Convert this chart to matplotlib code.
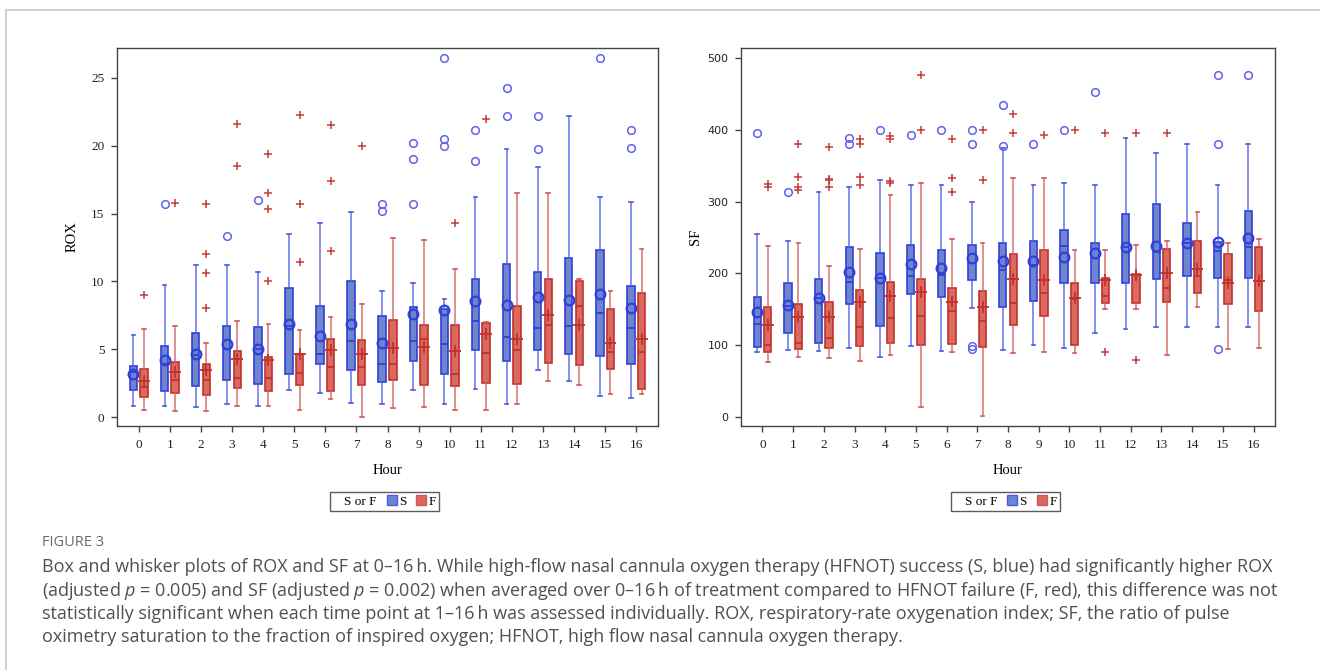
import matplotlib
matplotlib.use("Agg")
import matplotlib.pyplot as plt
from matplotlib.lines import Line2D
from matplotlib.patches import Rectangle
import numpy as np

hours = list(range(17))

# ROX, HFNOT success (S)
rox_s_low = [0.84, 0.81, 0.74, 0.98, 0.84, 2.02, 1.77, 1.06, 0.93, 2.02, 0.98, 2.09, 0.93, 3.44, 2.65, 1.57, 1.43]
rox_s_q1 = [1.97, 1.92, 2.29, 2.70, 2.46, 3.20, 3.88, 3.49, 2.58, 4.13, 3.15, 4.92, 4.13, 4.97, 4.67, 4.47, 3.88]
rox_s_med = [3.3, 3.93, 4.6, 5.04, 5.0, 6.69, 4.62, 5.6, 3.93, 5.58, 5.36, 7.08, 5.9, 6.54, 6.71, 7.67, 6.59]
rox_s_q3 = [3.79, 5.26, 6.22, 6.69, 6.64, 9.49, 8.19, 10.0, 7.42, 8.11, 7.99, 10.2, 11.31, 10.69, 11.73, 12.29, 9.66]
rox_s_high = [6.05, 9.7, 11.18, 11.18, 10.69, 13.52, 14.3, 15.12, 9.29, 9.9, 8.73, 16.22, 19.79, 18.41, 22.22, 16.22, 15.83]
rox_s_mean = [3.2, 4.23, 4.62, 5.36, 4.99, 6.86, 5.97, 6.86, 5.43, 7.57, 7.87, 8.53, 8.28, 8.85, 8.6, 9.05, 8.04]
rox_s_out = [[], [15.68], [], [13.35], [16.0], [], [], [], [15.68, 15.19], [20.23, 19.03, 15.68],
             [26.43, 20.48, 20.01], [21.14, 18.85], [24.26, 22.22], [22.22, 19.79], [], [26.48], [21.14, 19.86]]

# ROX, HFNOT failure (F)
rox_f_low = [0.54, 0.42, 0.42, 0.81, 0.84, 0.54, 1.30, 0.0, 0.69, 0.74, 0.49, 0.49, 0.93, 2.65, 2.38, 1.67, 1.67]
rox_f_q1 = [1.47, 1.77, 1.60, 2.14, 1.89, 2.36, 1.92, 2.38, 2.70, 2.38, 2.31, 2.53, 2.46, 3.98, 3.81, 3.56, 2.04]
rox_f_med = [2.2, 2.75, 2.7, 2.9, 2.9, 3.27, 3.69, 3.69, 3.93, 5.73, 3.2, 4.72, 4.97, 6.76, 8.16, 4.79, 4.79]
rox_f_q3 = [3.54, 4.03, 3.93, 4.87, 4.42, 4.67, 5.78, 5.70, 7.13, 6.76, 6.81, 6.93, 8.16, 10.2, 10.0, 7.96, 9.14]
rox_f_high = [6.5, 6.69, 5.48, 7.08, 6.88, 6.39, 7.4, 8.36, 13.22, 13.08, 10.94, 7.0, 16.52, 16.52, 10.2, 9.29, 12.39]
rox_f_mean = [2.65, 3.29, 3.44, 4.25, 4.2, 4.62, 4.92, 4.67, 5.11, 5.16, 4.87, 6.1, 5.73, 7.5, 6.76, 5.46, 5.73]
rox_f_out = [[8.97], [15.8], [15.68, 12.0, 10.64, 8.04], [21.58, 18.53], [19.42, 16.52, 15.36, 10.0],
             [22.25, 15.68, 11.43], [21.56, 17.43, 12.27], [20.0], [], [], [14.3], [22.0], [], [], [], [], []]

# SF, success (S)
sf_s_low = [90, 93.2, 92.3, 95.5, 84, 98.8, 91.8, 152.1, 93.2, 100.2, 95.5, 116.4, 123, 125.7, 124.8, 125.7, 125.7]
sf_s_q1 = [97.9, 116.4, 103.4, 158, 126.6, 172, 167.4, 190.6, 153.5, 161.9, 186, 186, 186, 192, 196.2, 193.4, 193.4]
sf_s_med = [128.9, 154, 166, 188, 193, 196.2, 197.6, 214.7, 204.5, 212.4, 238, 221.7, 237, 229.6, 242.6, 231, 237]
sf_s_q3 = [166.5, 187, 192, 237, 228.7, 240.3, 232.4, 240.3, 242.6, 244.9, 260.2, 242.6, 282.5, 296.4, 270.9, 244, 286.6]
sf_s_high = [255.6, 245.4, 313.5, 320.5, 330.7, 323.7, 323.7, 300, 375, 323.7, 326.5, 323.7, 388.2, 368.3, 379.9, 323.7, 379.9]
sf_s_mean = [146.6, 155.8, 166, 202, 193, 213, 206.9, 221.7, 217.5, 217.5, 222.2, 228.7, 237, 238.9, 242.6, 243.5, 249.5]
sf_s_out = [[396], [313.5], [], [388.7, 379.9], [400], [392.4], [400.3], [400.3, 380, 98.8, 94.2], [434, 377],
            [380.3], [400.3], [452.7], [], [], [], [476.8, 380.3, 95.1], [476.8]]

# SF, failure (F)
sf_f_low = [77, 84, 82.6, 78.4, 85.8, 13.5, 90, 1.4, 88.6, 90, 88.6, 149.8, 149.8, 85.8, 153.5, 94.2, 95.5]
sf_f_q1 = [91, 94.2, 95.5, 98.8, 102.5, 100.2, 101.6, 97.9, 128, 141, 99.7, 158.2, 158.2, 160.5, 173, 157.2, 148]
sf_f_med = [100, 103.4, 109.5, 125.7, 138.2, 140.5, 148, 134, 158.2, 173, 163.7, 168.8, 198.5, 180.4, 196.7, 190.6, 189.7]
sf_f_q3 = [153.5, 158, 160.5, 176.7, 188, 192, 180, 175.3, 227.7, 232.4, 186, 193, 199, 234.7, 244.9, 227.7, 237]
sf_f_high = [238, 242.6, 211, 234.7, 309.8, 326, 247.7, 242.6, 333.5, 333.5, 232.4, 232.4, 240.3, 244.9, 285.7, 242.6, 247.7]
sf_f_mean = [128, 138.7, 139.6, 159.6, 168.8, 174.4, 159.6, 153.5, 191.6, 190.6, 166, 190.6, 197.6, 200.8, 206, 187, 189.7]
sf_f_out = [[324, 321], [380.8, 334.4, 320.5, 316.8], [376, 332, 330.7, 320.5], [387.8, 380.8, 334.4, 323.3],
            [391, 387.8, 329, 326], [476.8, 400.3], [387.8, 333.5, 313.5], [400.3, 330.7], [422.5, 396],
            [392.4], [400.3], [396, 91], [396, 79.3], [396], [], [], []]

caption_title = "FIGURE 3"
caption_lines = [
    "Box and whisker plots of ROX and SF at 0\u201316\u2009h. While high-flow nasal cannula oxygen therapy (HFNOT) success (S, blue) had significantly higher ROX",
    "(adjusted $p$ = 0.005) and SF (adjusted $p$ = 0.002) when averaged over 0\u201316\u2009h of treatment compared to HFNOT failure (F, red), this difference was not",
    "statistically significant when each time point at 1\u201316\u2009h was assessed individually. ROX, respiratory-rate oxygenation index; SF, the ratio of pulse",
    "oximetry saturation to the fraction of inspired oxygen; HFNOT, high flow nasal cannula oxygen therapy.",
]

plt.rcParams['mathtext.fontset'] = 'custom'
plt.rcParams['mathtext.rm'] = 'Open Sans'
plt.rcParams['mathtext.it'] = 'Open Sans:italic'

S_FILL, S_EDGE, S_WHIS, S_OUT = '#6e84cd', '#3040d8', '#4a5ae8', '#6060f0'
F_FILL, F_EDGE, F_WHIS, F_OUT = '#da6a60', '#c0322e', '#d05a5a', '#c83a3a'
SERIF = 'Liberation Serif'


def make_stats(low, q1, med, q3, high, mean, out):
    return [dict(whislo=a, q1=b, med=c, q3=d, whishi=e, mean=m, fliers=o)
            for a, b, c, d, e, m, o in zip(low, q1, med, q3, high, mean, out)]


def draw_group(ax, stats, offset, fill, edge, whis, outc, mean_marker, flier_marker):
    pos = np.array(hours) + offset
    if mean_marker == 'o':
        meanprops = dict(marker='o', markerfacecolor='none', markeredgecolor=edge, markersize=7, markeredgewidth=1.6)
    else:
        meanprops = dict(marker='+', markeredgecolor=edge, markersize=9, markeredgewidth=1.3)
    if flier_marker == 'o':
        flierprops = dict(marker='o', markerfacecolor='none', markeredgecolor=outc, markersize=5.5, markeredgewidth=1.1)
    else:
        flierprops = dict(marker='+', markeredgecolor=outc, markersize=6, markeredgewidth=1.1)
    ax.bxp(stats, positions=pos, widths=0.24, patch_artist=True, showmeans=True, manage_ticks=False,
           capwidths=0.12,
           boxprops=dict(facecolor=fill, edgecolor=edge, linewidth=1.2),
           whiskerprops=dict(color=whis, linewidth=1.1, alpha=0.85),
           capprops=dict(color=whis, linewidth=1.2),
           medianprops=dict(color=edge, linewidth=1.3),
           meanprops=meanprops, flierprops=flierprops)


def style_axes(ax, ylabel, yticks, ylim, ytick_font, ylabelpad):
    ax.set_xlim(-0.7, 16.7)
    ax.set_ylim(*ylim)
    ax.set_xticks(hours)
    ax.set_xticklabels([str(h) for h in hours], family=SERIF, fontsize=9.5)
    ax.set_yticks(yticks)
    ax.set_yticklabels([str(v) for v in yticks], family=ytick_font, fontsize=9.5 if ytick_font == SERIF else 8)
    ax.tick_params(direction='out', length=4, width=1, color='#444444', labelcolor='#222222', pad=5)
    for sp in ax.spines.values():
        sp.set_color('#444444')
        sp.set_linewidth(1.0)
    ax.set_xlabel('Hour', family=SERIF, fontsize=10.5, labelpad=10)
    ax.set_ylabel(ylabel, family=SERIF, fontsize=10.5, labelpad=ylabelpad)
    handles = [Line2D([], [], linestyle='none'),
               Line2D([], [], linestyle='none', marker='s', markersize=7, markerfacecolor=S_FILL, markeredgecolor=S_WHIS),
               Line2D([], [], linestyle='none', marker='s', markersize=7, markerfacecolor=F_FILL, markeredgecolor=F_WHIS)]
    leg = ax.legend(handles, ['S or F', 'S', 'F'], ncol=3, loc='upper center', bbox_to_anchor=(0.495, -0.158),
                    frameon=True, fancybox=False, handlelength=0.5, handletextpad=0.3, columnspacing=0.9,
                    borderpad=0.25, prop=dict(family=SERIF, size=9.5))
    leg.get_frame().set_edgecolor('#333333')
    leg.get_frame().set_linewidth(1.0)


fig = plt.figure(figsize=(13.2, 6.7), dpi=100)
fig.add_artist(Rectangle((6 / 1320, -0.1), 1.2, 1.1 - 10 / 670, transform=fig.transFigure,
                         facecolor='none', edgecolor='#c8c8c8', linewidth=1.2))

ax1 = fig.add_axes([117 / 1320, 1 - 426 / 670, 541 / 1320, 378 / 670])
ax2 = fig.add_axes([741 / 1320, 1 - 426 / 670, 534 / 1320, 378 / 670])

draw_group(ax1, make_stats(rox_s_low, rox_s_q1, rox_s_med, rox_s_q3, rox_s_high, rox_s_mean, rox_s_out),
           -0.17, S_FILL, S_EDGE, S_WHIS, S_OUT, 'o', 'o')
draw_group(ax1, make_stats(rox_f_low, rox_f_q1, rox_f_med, rox_f_q3, rox_f_high, rox_f_mean, rox_f_out),
           0.17, F_FILL, F_EDGE, F_WHIS, F_OUT, '+', '+')
style_axes(ax1, 'ROX', [0, 5, 10, 15, 20, 25], (-0.66, 27.2), SERIF, 9)

draw_group(ax2, make_stats(sf_s_low, sf_s_q1, sf_s_med, sf_s_q3, sf_s_high, sf_s_mean, sf_s_out),
           -0.17, S_FILL, S_EDGE, S_WHIS, S_OUT, 'o', 'o')
draw_group(ax2, make_stats(sf_f_low, sf_f_q1, sf_f_med, sf_f_q3, sf_f_high, sf_f_mean, sf_f_out),
           0.17, F_FILL, F_EDGE, F_WHIS, F_OUT, '+', '+')
style_axes(ax2, 'SF', [0, 100, 200, 300, 400, 500], (-12.5, 514), 'DejaVu Sans', 4)

fig.text(42 / 1320, 1 - 543 / 670, caption_title, family=['Open Sans', 'DejaVu Sans'], fontsize=10.5,
         color='#6a6a6a', va='center')
for i, line in enumerate(caption_lines):
    fig.text(42 / 1320, 1 - (567 + i * 23.5) / 670, line, family=['Open Sans', 'DejaVu Sans'], fontsize=13,
             color='#505050', va='center')

fig.savefig('out.png', dpi=100)
